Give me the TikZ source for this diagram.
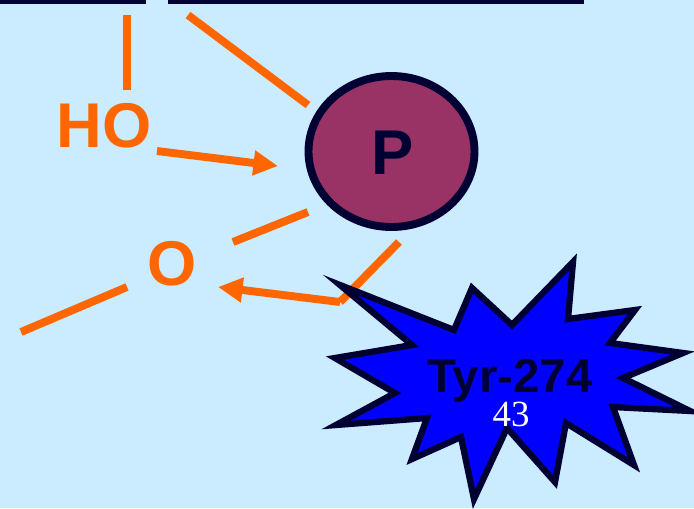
\documentclass[tikz,border=0pt]{standalone}
\usepackage{fontspec}
\setmainfont{Liberation Sans}
\newfontfamily\numfont{Liberation Serif}
\usetikzlibrary{arrows.meta}
\definecolor{slidebg}{RGB}{203,236,255}
\definecolor{bondorange}{RGB}{255,102,0}
\definecolor{inknavy}{RGB}{0,0,51}
\definecolor{atommaroon}{RGB}{153,51,102}
\tikzset{
  bond/.style={bondorange,line width=4.5pt},
  bondarrow/.style={bond,-{Triangle[length=14pt,width=13.5pt]}},
  atomlabel/.style={bondorange,font=\fontsize{36}{36}\selectfont\bfseries},
}
\begin{document}
\begin{tikzpicture}[x=.02cm,y=-.02cm]
  \useasboundingbox (0,0) rectangle (694,508);
  \fill[slidebg] (0,0) rectangle (694,508);
  \fill[inknavy] (0,0) rectangle (146,4);
  \fill[inknavy] (168,0) rectangle (584,4);
  \node[atomlabel] (hydroxyl) at (104,126) {HO};
  \node[atomlabel] (oxygen) at (172,264) {O};
  % bond ends
  \coordinate (topA) at (127,15);
  \coordinate (topB) at (127,90);
  \coordinate (topC) at (188,15);
  \coordinate (topD) at (308,105);
  \coordinate (hoOut) at (157,151);
  \coordinate (hoIn) at (278,166);
  \coordinate (oxA) at (233,242);
  \coordinate (oxB) at (308,212);
  \coordinate (oxC) at (21,332);
  \coordinate (oxD) at (127,287);
  \coordinate (tyrA) at (399,242);
  \coordinate (tyrB) at (340,302);
  \coordinate (oxIn) at (218,287);
  \draw[bond] (topA)--(topB);
  \draw[bond] (topC)--(topD);
  \draw[bond] (oxA)--(oxB);
  \draw[bond] (oxC)--(oxD);
  \draw[bond] (tyrA)--(tyrB);
  \draw[bondarrow] (hoOut)--(hoIn);
  \draw[bondarrow] (tyrB)--(oxIn);
  \draw[inknavy,fill=atommaroon,line width=4.5pt] (391.5,151.5) ellipse (83 and 75.5);
  \node[inknavy,font=\fontsize{36}{36}\selectfont\bfseries] (phos) at (393,153) {P};
  \draw[inknavy,fill=blue,line width=3.6pt,miter limit=20]
    (340,285)--(454,330)--(472,288)--(512,325)--(573,262)--(568,319)
    --(635,310)--(610,343)--(683,353)--(623,378)--(690,411)--(613,407)
    --(634,465)--(566,423)--(555,482)--(507,428)--(474,499)--(461,437)
    --(412,459)--(427,418)--(336,425)--(395,393)--(335,358)--(412,345)--cycle;
  \node[inknavy,font=\fontsize{27}{27}\selectfont\bfseries] (tyrosine) at (510,381) {Tyr-274};
  \node[white,font=\fontsize{21}{21}\selectfont\numfont] (pagenum) at (511,414) {43};
\end{tikzpicture}
\end{document}
